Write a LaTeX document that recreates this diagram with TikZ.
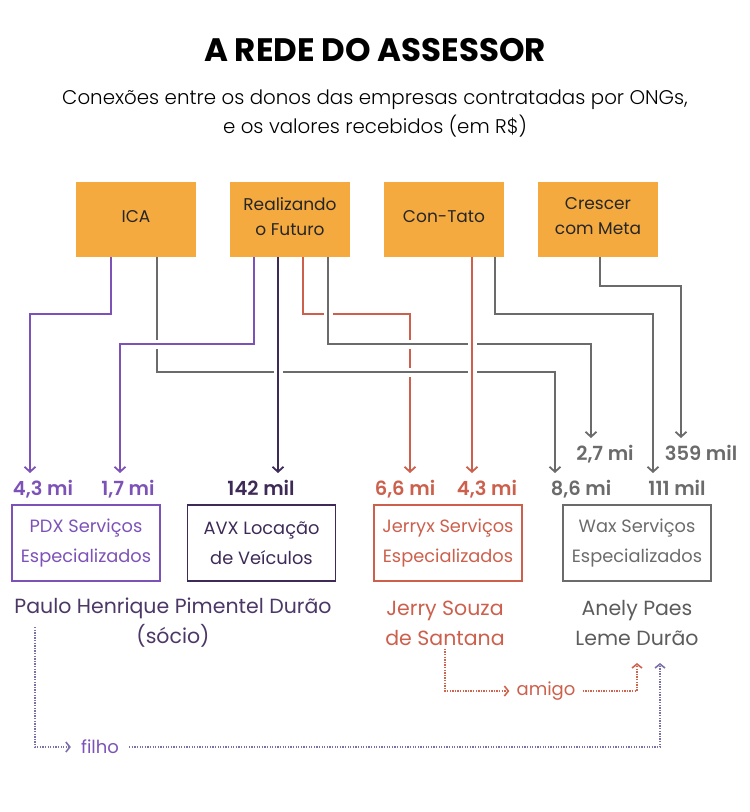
\documentclass[tikz,border=0pt]{standalone}
\usepackage{fontspec}
\setmainfont{Poppins}
\newfontfamily\semib{Poppins}[UprightFont=* SemiBold]
\newfontfamily\leve{Poppins}[UprightFont=* Light]
\usetikzlibrary{arrows.meta}

\definecolor{laranja}{HTML}{F4AA3F}
\definecolor{roxo}{HTML}{7D52B8}
\definecolor{roxoesc}{HTML}{3E2A56}
\definecolor{nomeroxo}{HTML}{4C3766}
\definecolor{verm}{HTML}{CC604C}
\definecolor{cinza}{HTML}{6B6B6B}
\definecolor{cinzaesc}{HTML}{5C5C5C}
\definecolor{pontroxo}{HTML}{7C70A8}
\definecolor{pontverm}{HTML}{D0654F}

\begin{document}
\begin{tikzpicture}[x=1pt, y=-1pt,
    ong/.style={fill=laranja, minimum width=120pt, minimum height=75pt},
    ongtxt/.style={align=center, text=black!85, font=\fontsize{17}{25}\selectfont},
    firma/.style={draw=#1, line width=1.3pt, text=#1, minimum width=148pt, minimum height=76pt,
      align=center, font=\fontsize{17.8}{30}\selectfont},
    valor/.style={text=#1, font=\semib\fontsize{19.5}{20}\selectfont, anchor=base,
      inner sep=0pt, text height=14pt, outer ysep=8pt},
    liga/.style={draw=#1, line width=1.8pt, -{Straight Barb[length=5pt, width=11pt]},
      preaction={draw=white, line width=9pt, -}},
    pessoa/.style={text=#1, align=center, font=\fontsize{20.5}{30}\selectfont},
    pont/.style={draw=#1, line width=1.6pt, dash pattern=on 1.3pt off 1.3pt,
      -{Straight Barb[length=4pt, width=10pt]}},
    rotulo/.style={text=#1, inner xsep=10pt, font=\fontsize{18}{20}\selectfont}
  ]
    \useasboundingbox (0,0) rectangle (750,812);

    % titulo
    \node[font=\bfseries\fontsize{32.5}{34}\selectfont] (titulo) at (375,50) {A REDE DO ASSESSOR};
    \node[align=center, font=\leve\fontsize{19.8}{29}\selectfont] (sub) at (375,113.5)
      {Conexões entre os donos das empresas contratadas por ONGs,\\e os valores recebidos (em R\$)};

    % ONGs
    \node[ong] (ica) at (136,219.5) {};
    \node[ong] (fut) at (290,219.5) {};
    \node[ong] (con) at (444,219.5) {};
    \node[ong] (cre) at (598,219.5) {};
    \node[ongtxt] (ica-t) at ([yshift=3pt]ica) {ICA};
    \node[ongtxt] (fut-t) at ([yshift=3pt]fut) {Realizando\\o Futuro};
    \node[ongtxt] (con-t) at ([yshift=3pt]con) {Con-Tato};
    \node[ongtxt] (cre-t) at ([yshift=3pt]cre) {Crescer\\com Meta};

    % valores
    \node[valor=roxo] (v1) at (43,495) {4,3 mi};
    \node[valor=roxo] (v2) at (128,495) {1,7 mi};
    \node[valor=roxoesc] (v3) at (261,495) {142 mil};
    \node[valor=verm] (v4) at (405,495) {6,6 mi};
    \node[valor=verm] (v5) at (487,495) {4,3 mi};
    \node[valor=cinza] (v6) at (581,495) {8,6 mi};
    \node[valor=cinza] (v7) at (605,460) {2,7 mi};
    \node[valor=cinza] (v8) at (677,495) {111 mil};
    \node[valor=cinza] (v9) at (701,460) {359 mil};

    % ligacoes (ordem define os cruzamentos)
    \draw[liga=verm] ([xshift=13pt]fut.south) |- (410,314) -- (v4.north -| 410,0);
    \draw[liga=cinza] ([xshift=21pt]ica.south) |- (555,372) -- (v6.north -| 555,0);
    \draw[liga=cinza] ([xshift=38pt]fut.south) |- (591,344) -- (v7.north -| 591,0);
    \draw[liga=cinza] ([xshift=51pt]con.south) |- (653,314) -- (v8.north -| 653,0);
    \draw[liga=cinza] ([xshift=2pt]cre.south) |- (681,286) -- (v9.north -| 681,0);
    \draw[liga=roxo] ([xshift=-25pt]ica.south) |- (30,314) -- (v1.north -| 30,0);
    \draw[liga=roxo] ([xshift=-36pt]fut.south) |- (120,344) -- (v2.north -| 120,0);
    \draw[liga=roxoesc] ([xshift=-12pt]fut.south) -- (v3.north -| 278,0);
    \draw[liga=verm] ([xshift=28pt]con.south) -- (v5.north -| 472,0);

    % empresas
    \node[firma=roxo] (pdx) at (86,543) {PDX Serviços\\Especializados};
    \node[firma=roxoesc] (avx) at (261.5,543) {AVX Locação\\de Veículos};
    \node[firma=verm] (jerryx) at (448,543) {Jerryx Serviços\\Especializados};
    \node[firma=cinza] (wax) at (637,543) {Wax Serviços\\Especializados};

    % donos
    \node[pessoa=nomeroxo] (paulo) at (173,623) {Paulo Henrique Pimentel Durão\\(sócio)};
    \node[pessoa=verm] (jerry) at (445,623) {Jerry Souza\\de Santana};
    \node[pessoa=cinzaesc] (anely) at (637,623) {Anely Paes\\Leme Durão};

    % parentesco
    \coordinate (pini) at (35,627);
    \coordinate (af) at (660,663);
    \coordinate (aa) at (637,663);
    \node[rotulo=roxo] (filho) at (100,747) {filho};
    \node[rotulo=verm, inner xsep=7pt] (amigo) at (546,691) {amigo};
    \draw[pont=pontroxo] (pini) |- (filho.west);
    \draw[pont=pontroxo] (filho.east) -| (af);
    \draw[pont=pontverm] (jerry.south) |- (amigo.west);
    \draw[pont=pontverm] (amigo.east) -| (aa);
  \end{tikzpicture}
\end{document}
